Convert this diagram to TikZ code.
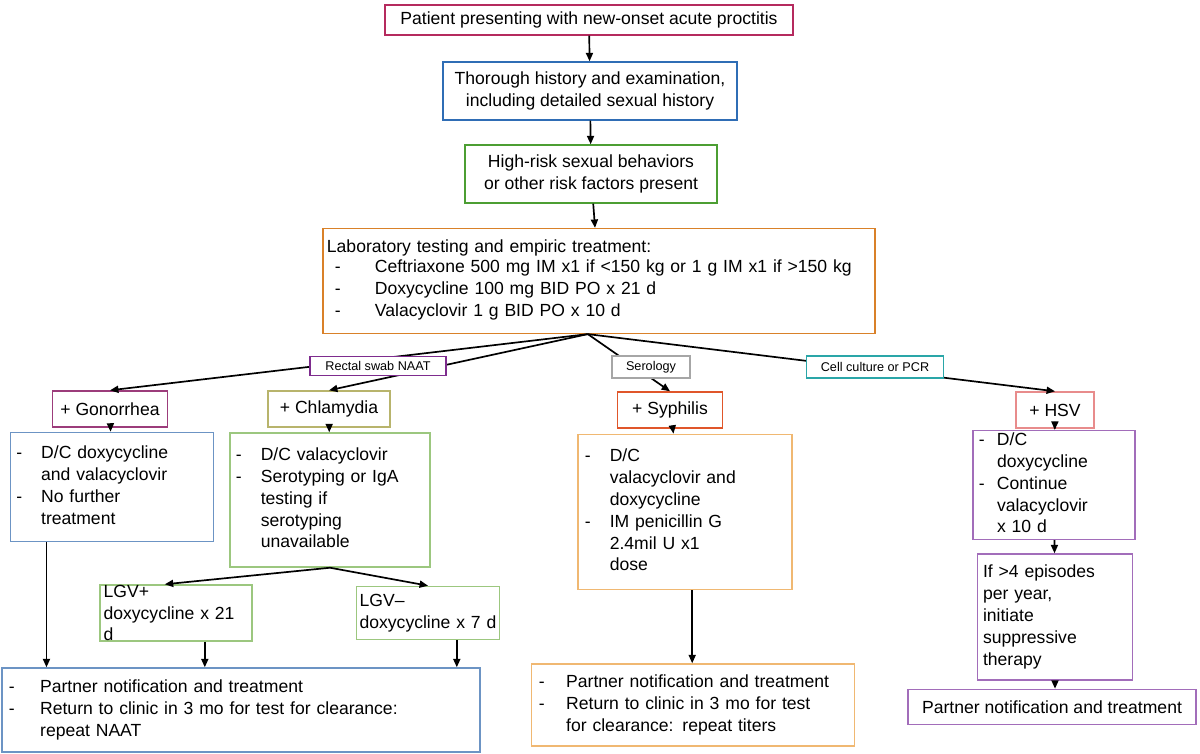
\documentclass[tikz,border=0pt]{standalone}
\usepackage{fontspec}
\setmainfont{Liberation Sans}
\usetikzlibrary{arrows.meta, positioning, calc}
\definecolor{cMag}{HTML}{B52A5E}
\definecolor{cBlue}{HTML}{2F6DB5}
\definecolor{cGreen}{HTML}{4C9E33}
\definecolor{cOrange}{HTML}{D98129}
\definecolor{cPurple}{HTML}{7E2C8E}
\definecolor{cTeal}{HTML}{2AA6A8}
\definecolor{cGon}{HTML}{9C3C7B}
\definecolor{cChl}{HTML}{B8B46C}
\definecolor{cSyph}{HTML}{E0562A}
\definecolor{cHsv}{HTML}{E88C8C}
\definecolor{cLBlue}{HTML}{6C94C4}
\definecolor{cLGreen}{HTML}{9CC77F}
\definecolor{cLOrange}{HTML}{F0B872}
\definecolor{cLPurple}{HTML}{A26DBA}
\tikzset{
  box/.style={rectangle, draw, line width=1pt, align=center, inner sep=0pt,
    font=\fontsize{12.5}{15.5}\selectfont},
  lbox/.style={box, align=left},
  tag/.style={rectangle, draw, line width=0.8pt, fill=white, inner sep=0pt,
    font=\fontsize{9}{11}\selectfont},
  arr/.style={-{Triangle[length=6pt,width=5pt]}, line width=1.2pt}
}
\newcommand{\dsh}[1]{\begin{tabular}{@{}p{#1}@{}l@{}}}

\begin{document}
\begin{tikzpicture}[x=0.025cm, y=-0.025cm]
    \useasboundingbox (0,0) rectangle (1200,754);

    % top of the chart
    \node[box, draw=cMag, minimum width=10.2cm, minimum height=0.75cm] (pat) at (589,20) {Patient presenting with new-onset acute proctitis};
    \node[box, draw=cBlue, minimum width=7.35cm, minimum height=1.45cm] (hist) at (590,91) {Thorough history and examination,\\including detailed sexual history};
    \node[box, draw=cGreen, minimum width=6.3cm, minimum height=1.45cm] (risk) at (591,174) {High-risk sexual behaviors\\or other risk factors present};
    \node[lbox, draw=cOrange, minimum width=13.8cm, minimum height=2.62cm, text width=13.6cm] (lab) at (599,281) {Laboratory testing and empiric treatment:\\
      \dsh{1.2cm}
      \hspace{0.2cm}- & Ceftriaxone 500 mg IM x1 if {<}150 kg or 1 g IM x1 if {>}150 kg\\
      \hspace{0.2cm}- & Doxycycline 100 mg BID PO x 21 d\\
      \hspace{0.2cm}- & Valacyclovir 1 g BID PO x 10 d
      \end{tabular}};

    % positive results
    \node[box, draw=cGon, minimum width=2.88cm, minimum height=0.9cm] (gon) at (110,409) {+ Gonorrhea};
    \node[box, draw=cChl, minimum width=3.05cm, minimum height=0.9cm] (chl) at (329,409) {+ Chlamydia};
    \node[box, draw=cSyph, minimum width=2.63cm, minimum height=0.9cm] (syph) at (670,410) {+ Syphilis};
    \node[box, draw=cHsv, minimum width=1.95cm, minimum height=0.9cm] (hsv) at (1055,410) {+ HSV};

    \draw[arr] (pat) -- (hist);
    \draw[arr] (hist) -- (risk);
    \draw[arr] (risk) -- (lab);
    \draw[arr] ([xshift=-0.28cm]lab.south) -- (gon.north);
    \draw[arr] ([xshift=-0.28cm]lab.south) -- (chl.north);
    \draw[arr] ([xshift=-0.28cm]lab.south) -- (syph.north);
    \draw[arr] ([xshift=-0.28cm]lab.south) -- (hsv.north);

    \node[tag, draw=cPurple, minimum width=3.4cm, minimum height=0.48cm] (naat) at (378,366) {Rectal swab NAAT};
    \node[tag, draw=gray!70, minimum width=1.95cm, minimum height=0.55cm] (sero) at (651,367) {Serology};
    \node[tag, draw=cTeal, minimum width=3.43cm, minimum height=0.55cm] (pcr) at (875,367) {Cell culture or PCR};

    % details
    \node[lbox, draw=cLBlue, minimum width=5.08cm, minimum height=2.73cm, text width=4.78cm] (gond) at (112,487) {\dsh{0.62cm}
      - & D/C doxycycline\\ & and valacyclovir\\ - & No further\\ & treatment\end{tabular}};
    \node[lbox, draw=cLGreen, minimum width=5cm, minimum height=3.35cm, text width=4.7cm] (chld) at (330,500) {\dsh{0.62cm}
      - & D/C valacyclovir\\ - & Serotyping or IgA\\ & testing if\\ & serotyping\\ & unavailable\end{tabular}};
    \node[lbox, draw=cLOrange, minimum width=5.35cm, minimum height=3.88cm, text width=5.0cm] (syphd) at (685,512) {\dsh{0.62cm}
      - & D/C\\ & valacyclovir and\\ & doxycycline\\ - & IM penicillin G\\ & 2.4mil U x1\\ & dose\end{tabular}};
    \node[lbox, draw=cLPurple, minimum width=4.05cm, minimum height=2.63cm, text width=3.75cm] (hsvd) at (1054,485) {\dsh{0.45cm}
      - & D/C\\ & doxycycline\\ - & Continue\\ & valacyclovir\\ & x 10 d\end{tabular}};

    \node[lbox, draw=cLGreen, minimum width=3.8cm, minimum height=1.33cm, text width=3.62cm] (lgvp) at (176,613) {LGV+\\doxycycline x 21 d};
    \node[lbox, draw=cLGreen, minimum width=3.58cm, minimum height=1.33cm, text width=3.42cm] (lgvm) at (428,613) {LGV–\\doxycycline x 7 d};
    \node[lbox, draw=cLPurple, minimum width=3.88cm, minimum height=3.15cm, text width=3.6cm] (epi) at (1055,617) {If {>}4 episodes\\per year,\\initiate\\suppressive\\therapy};

    % bottom row
    \node[lbox, draw=cLBlue, minimum width=11.95cm, minimum height=2.1cm, text width=11.6cm] (botl) at (241,710) {\dsh{0.78cm}
      - & Partner notification and treatment\\ - & Return to clinic in 3 mo for test for clearance:\\ & repeat NAAT\end{tabular}};
    \node[lbox, draw=cLOrange, minimum width=8.08cm, minimum height=2.05cm, text width=7.7cm] (bots) at (693,705) {\dsh{0.68cm}
      - & Partner notification and treatment\\ - & Return to clinic in 3 mo for test\\ & for clearance: repeat titers\end{tabular}};
    \node[box, draw=cLPurple, minimum width=7.2cm, minimum height=0.88cm] (part) at (1052,707) {Partner notification and treatment};

    \draw[arr] (gon) -- (gond);
    \draw[arr] (chl) -- (chld);
    \draw[arr] (syph) -- (syphd);
    \draw[arr] (hsv) -- (hsvd);
    \draw[arr] (chld.south) -- ([xshift=-0.28cm]lgvp.north);
    \draw[arr] (chld.south) -- (lgvm.north);
    \draw[arr] ([xshift=0.92cm]gond.south west) -- ([xshift=0.92cm]gond.south west |- botl.north);
    \draw[arr] ([xshift=0.72cm]lgvp.south) -- ([xshift=0.72cm]lgvp.south |- botl.north);
    \draw[arr] ([xshift=0.72cm]lgvm.south) -- ([xshift=0.72cm]lgvm.south |- botl.north);
    \draw[arr] ([xshift=0.18cm]syphd.south) -- ([xshift=0.18cm]syphd.south |- bots.north);
    \draw[arr] (hsvd) -- (epi);
    \draw[arr] (epi.south) -- (epi.south |- part.north);
\end{tikzpicture}
\end{document}
